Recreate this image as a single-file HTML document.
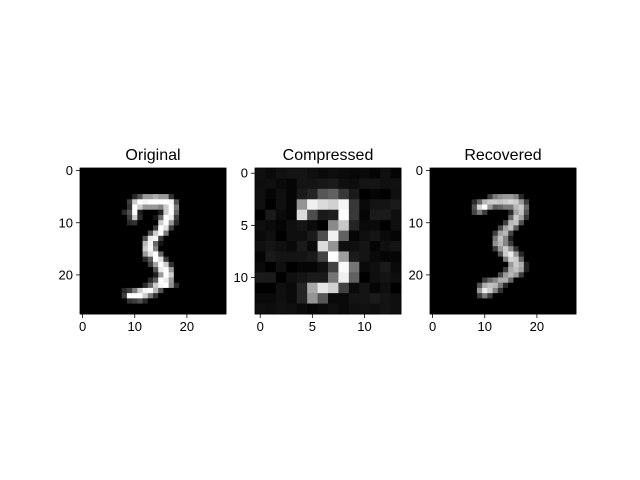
<!DOCTYPE html>
<html><head><meta charset="utf-8"><style>
body{margin:0;background:#fff;}
svg{display:block;font-family:"Liberation Sans","DejaVu Sans",sans-serif;}
</style></head><body>
<svg id="fig" width="640" height="480" viewBox="0 0 640 480"></svg>
<script>
// Original 28x28 (sparse rows: [row, startCol, values])
const originalRows = [
 [5,10,[40,80,150,150,170,150,150,50]],
 [6,9,[60,200,250,240,250,250,250,250,240,80]],
 [7,9,[50,250,200,150,150,150,130,200,250,120]],
 [8,8,[40,80,250,30,0,0,0,30,200,250,100]],
 [9,9,[60,200,40,0,0,20,100,250,230,60]],
 [10,9,[40,50,0,0,0,0,200,250,150,40]],
 [11,14,[60,250,220,60]],
 [12,13,[80,200,250,120]],
 [13,12,[80,230,240,60]],
 [14,12,[180,240,100,20]],
 [15,12,[200,240,130]],
 [16,12,[150,220,250,100]],
 [17,12,[40,90,250,220,60]],
 [18,13,[60,160,250,200,50]],
 [19,14,[80,230,250,150]],
 [20,14,[30,150,250,200]],
 [21,13,[40,90,250,230,150]],
 [22,12,[40,100,200,240,250,140,40]],
 [23,8,[40,60,120,200,240,250,180,80]],
 [24,8,[60,250,250,250,200,120,50]],
 [25,9,[50,60,80,40]]
];
// Compressed 14x14
const compressedGrid = [
 [20,15,22,25,25,20,15,18,15,12,15,10,20,10],
 [18,20,15,10,25,25,28,30,20,18,25,25,20,22],
 [20,10,20,10,30,40,90,100,60,30,5,10,5,20],
 [20,5,20,10,150,240,220,210,245,60,15,25,25,30],
 [5,30,15,10,220,80,30,35,255,60,10,30,30,20],
 [20,15,10,20,25,15,5,140,200,40,15,15,5,20],
 [15,20,5,20,20,30,80,240,100,10,20,25,15,10],
 [20,25,20,15,30,15,220,150,20,20,25,10,20,25],
 [10,30,25,25,25,30,70,255,160,30,25,15,10,10],
 [15,5,20,5,10,10,20,70,250,120,15,20,30,15],
 [30,30,5,20,25,30,30,120,240,100,5,20,25,20],
 [5,5,20,15,40,170,230,210,70,15,25,10,20,5],
 [15,15,20,15,40,150,90,15,15,25,25,30,25,20],
 [20,18,22,20,15,10,15,20,15,20,22,20,25,20]
];
// Recovered 28x28 (sparse rows)
const recoveredRows = [
 [5,11,[60,120,140,150,150,130,40]],
 [6,8,[40,100,180,200,200,190,200,210,200,150,60]],
 [7,8,[80,210,250,150,90,100,120,120,180,200,100]],
 [8,8,[70,120,60,0,0,0,0,40,160,190,80]],
 [9,15,[100,200,160,50]],
 [10,14,[60,180,190,80]],
 [11,13,[70,160,190,90]],
 [12,12,[60,160,180,70]],
 [13,12,[120,190,130,30]],
 [14,12,[140,180,130,60]],
 [15,12,[60,150,200,140,50]],
 [16,13,[80,200,230,150,40]],
 [17,14,[120,210,200,100]],
 [18,15,[150,200,170,30]],
 [19,14,[60,170,190,160,30]],
 [20,13,[70,150,180,150,60]],
 [21,10,[60,100,130,170,170,100]],
 [22,9,[80,170,190,180,120,40]],
 [23,9,[150,230,200,130,50]],
 [24,9,[60,120,60]]
];
const titles = ["Original","Compressed","Recovered"];
const ticks28 = [0,10,20];
const ticks14 = [0,5,10];

const NS="http://www.w3.org/2000/svg";
const svg=document.getElementById('fig');
function mk(tag,attrs,parent){const e=document.createElementNS(NS,tag);for(const k in attrs)e.setAttribute(k,attrs[k]);(parent||svg).appendChild(e);return e;}
function expand(rows,n){const g=[];for(let r=0;r<n;r++)g.push(new Array(n).fill(0));rows.forEach(([r,c,v])=>v.forEach((x,i)=>{g[r][c+i]=x;}));return g;}

const panels=[
 {grid:expand(originalRows,28),n:28,ticks:ticks28,x0:80,name:"original"},
 {grid:compressedGrid,n:14,ticks:ticks14,x0:255,name:"compressed"},
 {grid:expand(recoveredRows,28),n:28,ticks:ticks28,x0:430,name:"recovered"}
];
const y0=168,size=146;
panels.forEach((p,pi)=>{
 const g=mk('g',{});
 
 
 const cell=size/p.n;
 let mx=0,mn=255;p.grid.forEach(r=>r.forEach(v=>{mx=Math.max(mx,v);mn=Math.min(mn,v);}));
 const sx=c=>p.x0+c*cell, sy=r=>y0+r*cell;
 p.grid.forEach((row,r)=>row.forEach((v,c)=>{
  const k=Math.round((v-mn)/(mx-mn)*255);
  const rc=mk('rect',{x:sx(c),y:sy(r),width:cell+0.4,height:cell+0.4,fill:`rgb(${k},${k},${k})`},g);
  
  
 }));
 const fr=mk('rect',{x:p.x0,y:y0,width:size,height:size,fill:'none',stroke:'#000','stroke-width':0.8},g);
 
 
 const t=mk('text',{x:p.x0+size/2,y:y0-8,'text-anchor':'middle','font-size':16,fill:'#000'},g);
 t.textContent=titles[pi];
 
 
 p.ticks.forEach(v=>{
  const px=sx(v+0.5), py=sy(v+0.5);
  mk('line',{x1:px,y1:y0+size,x2:px,y2:y0+size+4,stroke:'#000','stroke-width':0.8},g);
  const tx=mk('text',{x:px,y:y0+size+17,'text-anchor':'middle','font-size':13,fill:'#000'},g);
  tx.textContent=v;
  
  
  mk('line',{x1:p.x0-4,y1:py,x2:p.x0,y2:py,stroke:'#000','stroke-width':0.8},g);
  const ty=mk('text',{x:p.x0-7,y:py+4.5,'text-anchor':'end','font-size':13,fill:'#000'},g);
  ty.textContent=v;
  
  
 });
});
</script>
</body></html>
